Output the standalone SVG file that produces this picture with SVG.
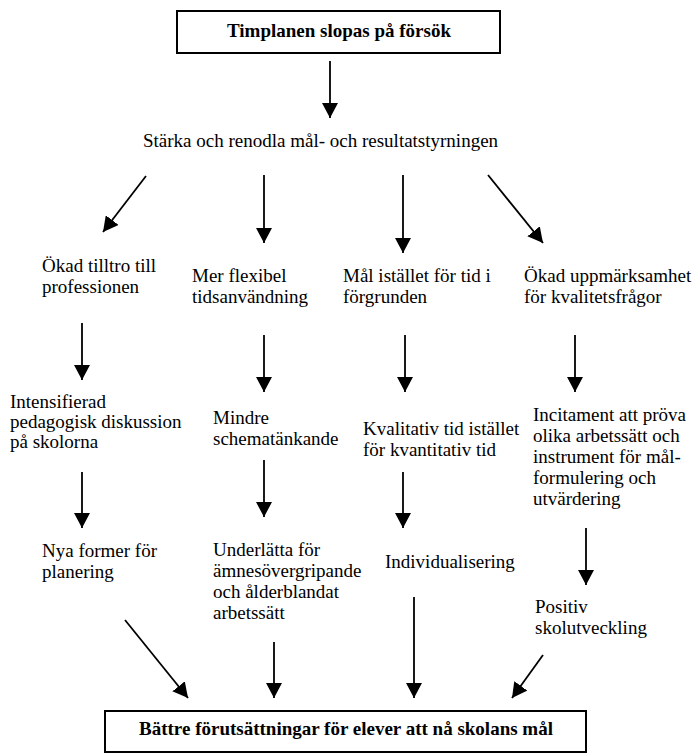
<svg xmlns="http://www.w3.org/2000/svg" width="700" height="753" viewBox="0 0 700 753">
<style>
text{font-family:"Liberation Serif","DejaVu Serif",serif;font-size:19px;fill:#000}
.b{font-weight:bold}
.box{fill:#fff;stroke:#000;stroke-width:2}
.c line{stroke:#000;stroke-width:1.8;marker-end:url(#ah)}
</style>
<defs>
<marker id="ah" viewBox="0 0 15 16" refX="15" refY="8" markerWidth="15" markerHeight="16" markerUnits="userSpaceOnUse" orient="auto">
<path d="M0,0 L15,8 L0,16 z" fill="#000"/>
</marker>
</defs>
<rect width="700" height="753" fill="#fff"/>
<g id="connectors" class="c">
<line x1="330" y1="61" x2="330" y2="118"/>
<line x1="146" y1="176" x2="103" y2="232"/>
<line x1="264" y1="175" x2="264" y2="243"/>
<line x1="403" y1="175" x2="403" y2="253"/>
<line x1="488" y1="175" x2="543" y2="243"/>
<line x1="82" y1="323" x2="82" y2="380"/>
<line x1="264" y1="335" x2="264" y2="392"/>
<line x1="405" y1="335" x2="405" y2="392"/>
<line x1="575" y1="335" x2="575" y2="392"/>
<line x1="82" y1="472" x2="82" y2="528"/>
<line x1="264" y1="460" x2="264" y2="517"/>
<line x1="403" y1="472" x2="403" y2="528"/>
<line x1="586" y1="528" x2="586" y2="585"/>
<line x1="125" y1="620" x2="188" y2="698"/>
<line x1="274" y1="642" x2="274" y2="698"/>
<line x1="414" y1="597" x2="414" y2="698"/>
<line x1="543" y1="655" x2="512" y2="698"/>
</g>
<g id="n-top">
<rect class="box" x="177" y="11" width="323" height="42"/>
<text class="b" x="339" y="37" text-anchor="middle">Timplanen slopas på försök</text>
</g>
<g id="n-starka">
<text x="143" y="147">Stärka och renodla mål- och resultatstyrningen</text>
</g>
<g id="n-tilltro">
<text x="42" y="272">Ökad tilltro till<tspan x="42" y="293">professionen</tspan></text>
</g>
<g id="n-flexibel">
<text x="192" y="282">Mer flexibel<tspan x="192" y="303">tidsanvändning</tspan></text>
</g>
<g id="n-mal">
<text x="343" y="282">Mål istället för tid i<tspan x="343" y="303">förgrunden</tspan></text>
</g>
<g id="n-uppmarksamhet">
<text x="524" y="282">Ökad uppmärksamhet<tspan x="524" y="303">för kvalitetsfrågor</tspan></text>
</g>
<g id="n-intensifierad">
<text x="10" y="408">Intensifierad<tspan x="10" y="428">pedagogisk diskussion</tspan><tspan x="10" y="448">på skolorna</tspan></text>
</g>
<g id="n-mindre">
<text x="213" y="424">Mindre<tspan x="213" y="445">schematänkande</tspan></text>
</g>
<g id="n-kvalitativ">
<text x="363" y="435">Kvalitativ tid istället<tspan x="363" y="456">för kvantitativ tid</tspan></text>
</g>
<g id="n-incitament">
<text x="533" y="421">Incitament att pröva<tspan x="533" y="442">olika arbetssätt och</tspan><tspan x="533" y="463">instrument för mål-</tspan><tspan x="533" y="484">formulering och</tspan><tspan x="533" y="505">utvärdering</tspan></text>
</g>
<g id="n-nya">
<text x="42" y="557">Nya former för<tspan x="42" y="578">planering</tspan></text>
</g>
<g id="n-underlatta">
<text x="213" y="556">Underlätta för<tspan x="213" y="577">ämnesövergripande</tspan><tspan x="213" y="598">och ålderblandat</tspan><tspan x="213" y="619">arbetssätt</tspan></text>
</g>
<g id="n-individualisering">
<text x="385" y="568">Individualisering</text>
</g>
<g id="n-positiv">
<text x="535" y="613">Positiv<tspan x="535" y="634">skolutveckling</tspan></text>
</g>
<g id="n-bottom">
<rect class="box" x="105" y="711" width="481" height="41"/>
<text class="b" x="346" y="735" text-anchor="middle">Bättre förutsättningar för elever att nå skolans mål</text>
</g>
</svg>
